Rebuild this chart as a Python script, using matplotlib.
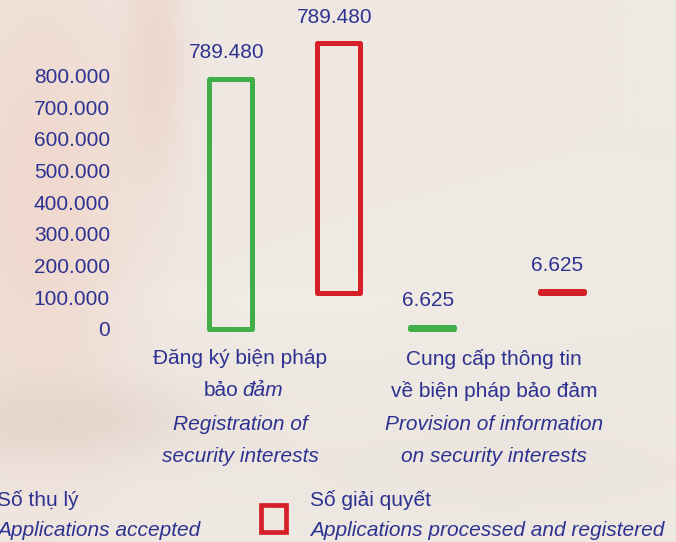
import numpy as np
import matplotlib
matplotlib.use('Agg')
import matplotlib.pyplot as plt
import matplotlib.patches as mpatches
import matplotlib.transforms as mtransforms

# ---------------------------------------------------------------------------
# Data
# ---------------------------------------------------------------------------
accepted = [789480, 6625]          # Số thụ lý
processed = [789480, 6625]         # Số giải quyết
value_labels_accepted = ['789.480', '6.625']
value_labels_processed = ['789.480', '6.625']
yticks = [0, 100000, 200000, 300000, 400000, 500000, 600000, 700000, 800000]
ytick_labels = ['0', '100.000', '200.000', '300.000', '400.000',
                '500.000', '600.000', '700.000', '800.000']
cat_lines = [
    [('Đăng ký biện pháp', 'normal'), ('bảo|đảm', 'mixed'),
     ('Registration of', 'italic'), ('security interests', 'italic')],
    [('Cung cấp thông tin', 'normal'), ('về biện pháp bảo đảm', 'normal'),
     ('Provision of information', 'italic'), ('on security interests', 'italic')],
]
legend_items = [('Số thụ lý', 'Applications accepted'),
                ('Số giải quyết', 'Applications processed and registered')]

# layout (not data)
green_pos = [0.0, 1.0]
red_pos = [0.536, 1.643]
label_pos = [0.047, 1.308]
bar_w = 0.218

GREEN = '#40ae49'
RED = '#d52029'
NAVY = '#2d3291'
FS = 15

W, H = 676, 542
plt.rcParams['font.family'] = ['Liberation Sans', 'DejaVu Sans']

fig = plt.figure(figsize=(W / 100, H / 100), dpi=100)

# ---------------------------------------------------------------------------
# Faded photo-like background
# ---------------------------------------------------------------------------
bg = fig.add_axes([0, 0, 1, 1], zorder=-10)
yy, xx = np.mgrid[0:H, 0:W].astype(float)
img = np.ones((H, W, 3))
img[..., 0] = 239 / 255
img[..., 1] = 233 / 255
img[..., 2] = 227 / 255


def blob(cx, cy, sx, sy, col, a):
    w = a * np.exp(-(((xx - cx) / sx) ** 2 + ((yy - cy) / sy) ** 2))
    for k in range(3):
        img[..., k] = img[..., k] * (1 - w) + col[k] / 255 * w


blob(40, 200, 100, 260, (240, 212, 200), 0.8)
blob(155, 60, 30, 120, (234, 200, 188), 0.5)
blob(60, 420, 140, 40, (222, 205, 195), 0.6)
blob(300, 300, 160, 30, (245, 240, 236), 0.4)
blob(500, 470, 260, 60, (232, 225, 218), 0.4)
bg.imshow(img, aspect='auto', extent=[0, W, H, 0])
bg.axis('off')

# ---------------------------------------------------------------------------
# Main axes, mapped so that 0 sits at y=329 px and 800.000 at y=75.5 px
# ---------------------------------------------------------------------------
ax_left = 118
ax = fig.add_axes([ax_left / W, 0, (W - ax_left) / W, 1])
ax.patch.set_alpha(0)
y0_px = 329
px_per_unit = 253.5 / 800000
ax.set_ylim(-(H - y0_px) / px_per_unit, y0_px / px_per_unit)
ax.set_xlim((ax_left - 230.5) / 201.5, (W - 230.5) / 201.5)
for s in ax.spines.values():
    s.set_visible(False)
ax.set_xticks([])
ax.set_yticks(yticks)
ax.set_yticklabels(ytick_labels, fontsize=FS, color=NAVY)
ax.tick_params(axis='y', length=0, pad=5.8)

# processed series is drawn shifted up (pseudo depth)
red_tr = mtransforms.offset_copy(ax.transData, fig=fig, x=0, y=36, units='dots')

ax.bar(green_pos, accepted, width=bar_w, fill=False, edgecolor=GREEN,
       linewidth=3.6, joinstyle='round')
ax.bar(red_pos, processed, width=bar_w, fill=False, edgecolor=RED,
       linewidth=3.6, joinstyle='round', transform=red_tr)

for x, v, t in zip(green_pos, accepted, value_labels_accepted):
    ax.annotate(t, (x, v), xytext=(-3, 19), textcoords='offset points',
                ha='center', va='center', fontsize=FS, color=NAVY)
for x, v, t in zip(red_pos, processed, value_labels_processed):
    ax.annotate(t, (x, v), xycoords=red_tr, xytext=(-3, 18),
                textcoords='offset points',
                ha='center', va='center', fontsize=FS, color=NAVY)

# category labels
lab_tr = mtransforms.blended_transform_factory(ax.transData, fig.transFigure)
line_y = [359, 391, 424, 456]
for x, lines in zip(label_pos, cat_lines):
    for (txt, style), ly in zip(lines, line_y):
        yf = 1 - ly / H
        if style == 'mixed':
            a, b = txt.split('|')
            ax.text(x, yf, a, transform=mtransforms.offset_copy(
                lab_tr, fig=fig, x=-2, y=0, units='dots'),
                ha='right', va='center', fontsize=FS, color=NAVY)
            ax.text(x, yf, b, transform=mtransforms.offset_copy(
                lab_tr, fig=fig, x=2, y=0, units='dots'),
                ha='left', va='center', fontsize=FS, color=NAVY,
                style='italic')
        else:
            ax.text(x, yf, txt, transform=lab_tr, ha='center', va='center',
                    fontsize=FS, color=NAVY, style=style)

# ---------------------------------------------------------------------------
# Legend (manual, partly cut off at the left edge like the source)
# ---------------------------------------------------------------------------
fig.patches.append(mpatches.Rectangle(
    (260.5 / W, 1 - 531.5 / H), 25 / W, 27 / H, transform=fig.transFigure,
    fill=False, edgecolor=RED, linewidth=3.4, figure=fig))
leg_x = [-3, 310]
for lx, (vn, en) in zip(leg_x, legend_items):
    fig.text(lx / W, 1 - 500 / H, vn, ha='left', va='center',
             fontsize=FS, color=NAVY)
    fig.text(lx / W, 1 - 531 / H, en, ha='left', va='center',
             fontsize=FS, color=NAVY, style='italic')

fig.savefig('out.png', dpi=100)
